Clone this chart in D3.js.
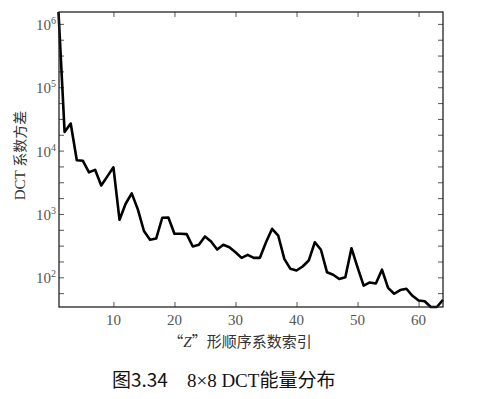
<!DOCTYPE html>
<html>
<head>
<meta charset="utf-8">
<script src="https://cdn.jsdelivr.net/npm/d3@7"></script>
<style>
  body { margin: 0; background: #fff; }
  svg { display: block; }
</style>
</head>
<body>
<svg id="chart" width="480" height="399"></svg>
<script>
"use strict";

// DCT 系数方差, 按 "Z" 形顺序 (索引 1..64)
const variance = [
  1540000, 19700, 26700, 7030, 6900, 4540, 4970, 2820, 3920, 5440,
  809, 1450, 2110, 1180, 538, 391, 409, 871, 880, 486,
  486, 480, 306, 326, 441, 367, 274, 326, 298, 249,
  203, 226, 203, 203, 358, 583, 457, 195, 136, 128,
  148, 184, 358, 272, 120, 110, 94, 100, 288, 144,
  74, 83, 80, 132, 68, 55, 63, 66, 51, 43,
  42, 34, 34, 44
];
const xTicks = [10, 20, 30, 40, 50, 60];
const yDecades = [2, 3, 4, 5, 6];
const yLabel = ["DCT ", "系数方差"];
const xLabel = ["“", "Z", "”形顺序系数索引"];
const title = ["图3.34", "    8×8 DCT", "能量分布"];

const svg = d3.select("#chart");
const box = {left: 59, right: 443, top: 12, bottom: 307};
const serif = "'Liberation Serif', 'DejaVu Serif', serif";
const cjk = "'Noto Sans CJK SC', sans-serif";
const grey = "#555";

const x = d3.scaleLinear().domain([1, variance.length]).range([box.left - 0.5, box.right]);
const y = d3.scaleLog().domain(d3.extent(variance)).range([box.bottom, box.top]);

// quarter-decade tick marks like the original
const yMarks = d3.range(4, 28).map(k => Math.pow(10, k / 4))
  .filter(v => v >= y.domain()[0] && v <= y.domain()[1]);

const plot = svg.append("g");

const drawAxis = (axis, tx, ty) => {
  const g = plot.append("g").attr("transform", `translate(${tx},${ty})`).call(axis);
  g.select(".domain").remove();
  g.selectAll(".tick line").attr("stroke", grey).attr("stroke-width", 1);
  g.selectAll(".tick text").remove();
  return g;
};

drawAxis(d3.axisBottom(x).tickValues(xTicks).tickSize(-5), 0, box.bottom);
drawAxis(d3.axisTop(x).tickValues(xTicks).tickSize(-5), 0, box.top);
drawAxis(d3.axisLeft(y).tickValues(yMarks).tickSize(-5), box.left, 0);
drawAxis(d3.axisRight(y).tickValues(yMarks).tickSize(-5), box.right, 0);

// x tick labels
plot.selectAll("text.xtick")
    .data(xTicks)
  .enter().append("text")
    .attr("class", "xtick")
    .attr("x", d => x(d))
    .attr("y", box.bottom + 18)
    .attr("text-anchor", "middle")
    .attr("font-family", serif)
    .attr("font-size", 15)
    .attr("fill", grey)
    .text(d => d);

// y tick labels 10^n
const yt = plot.selectAll("text.ytick")
    .data(yDecades)
  .enter().append("text")
    .attr("class", "ytick")
    .attr("x", box.left - 3)
    .attr("y", d => y(Math.pow(10, d)) + 6)
    .attr("text-anchor", "end")
    .attr("font-family", serif)
    .attr("font-size", 15)
    .attr("fill", grey);
yt.append("tspan").text("10");
yt.append("tspan").attr("dy", -6).attr("font-size", 10).text(d => d);

// the curve
const line = d3.line()
  .x((d, i) => x(i + 1))
  .y(d => y(d));

plot.append("path")
  .datum(variance)
  .attr("fill", "none")
  .attr("stroke", "#000")
  .attr("stroke-width", 2.6)
  .attr("stroke-linejoin", "round")
  .attr("d", line);

// frame
plot.append("rect")
  .attr("x", box.left)
  .attr("y", box.top)
  .attr("width", box.right - box.left)
  .attr("height", box.bottom - box.top)
  .attr("fill", "none")
  .attr("stroke", "#222")
  .attr("stroke-width", 1.3);

// axis titles
const yl = svg.append("text")
  .attr("transform", `translate(25,${(box.top + box.bottom) / 2 - 4}) rotate(-90)`)
  .attr("text-anchor", "middle")
  .attr("font-size", 15)
  .attr("fill", "#333")
  .style("white-space", "pre");
yl.append("tspan").attr("font-family", serif).text(yLabel[0]);
yl.append("tspan").attr("font-family", cjk).attr("font-size", 14).text(yLabel[1]);

const xl = svg.append("text")
  .attr("x", 240)
  .attr("y", 347)
  .attr("text-anchor", "middle")
  .attr("font-family", cjk)
  .attr("font-size", 15)
  .attr("fill", "#333");
xl.append("tspan").text(xLabel[0]);
xl.append("tspan").attr("font-family", serif).attr("font-style", "italic").text(xLabel[1]);
xl.append("tspan").text(xLabel[2]);

// caption
const cap = svg.append("text")
  .attr("x", 112)
  .attr("y", 387)
  .attr("font-size", 19)
  .attr("fill", "#111")
  .style("white-space", "pre");
cap.append("tspan").attr("font-family", cjk).text(title[0]);
cap.append("tspan").attr("font-family", serif).text(title[1]);
cap.append("tspan").attr("font-family", cjk).text(title[2]);
</script>
</body>
</html>
